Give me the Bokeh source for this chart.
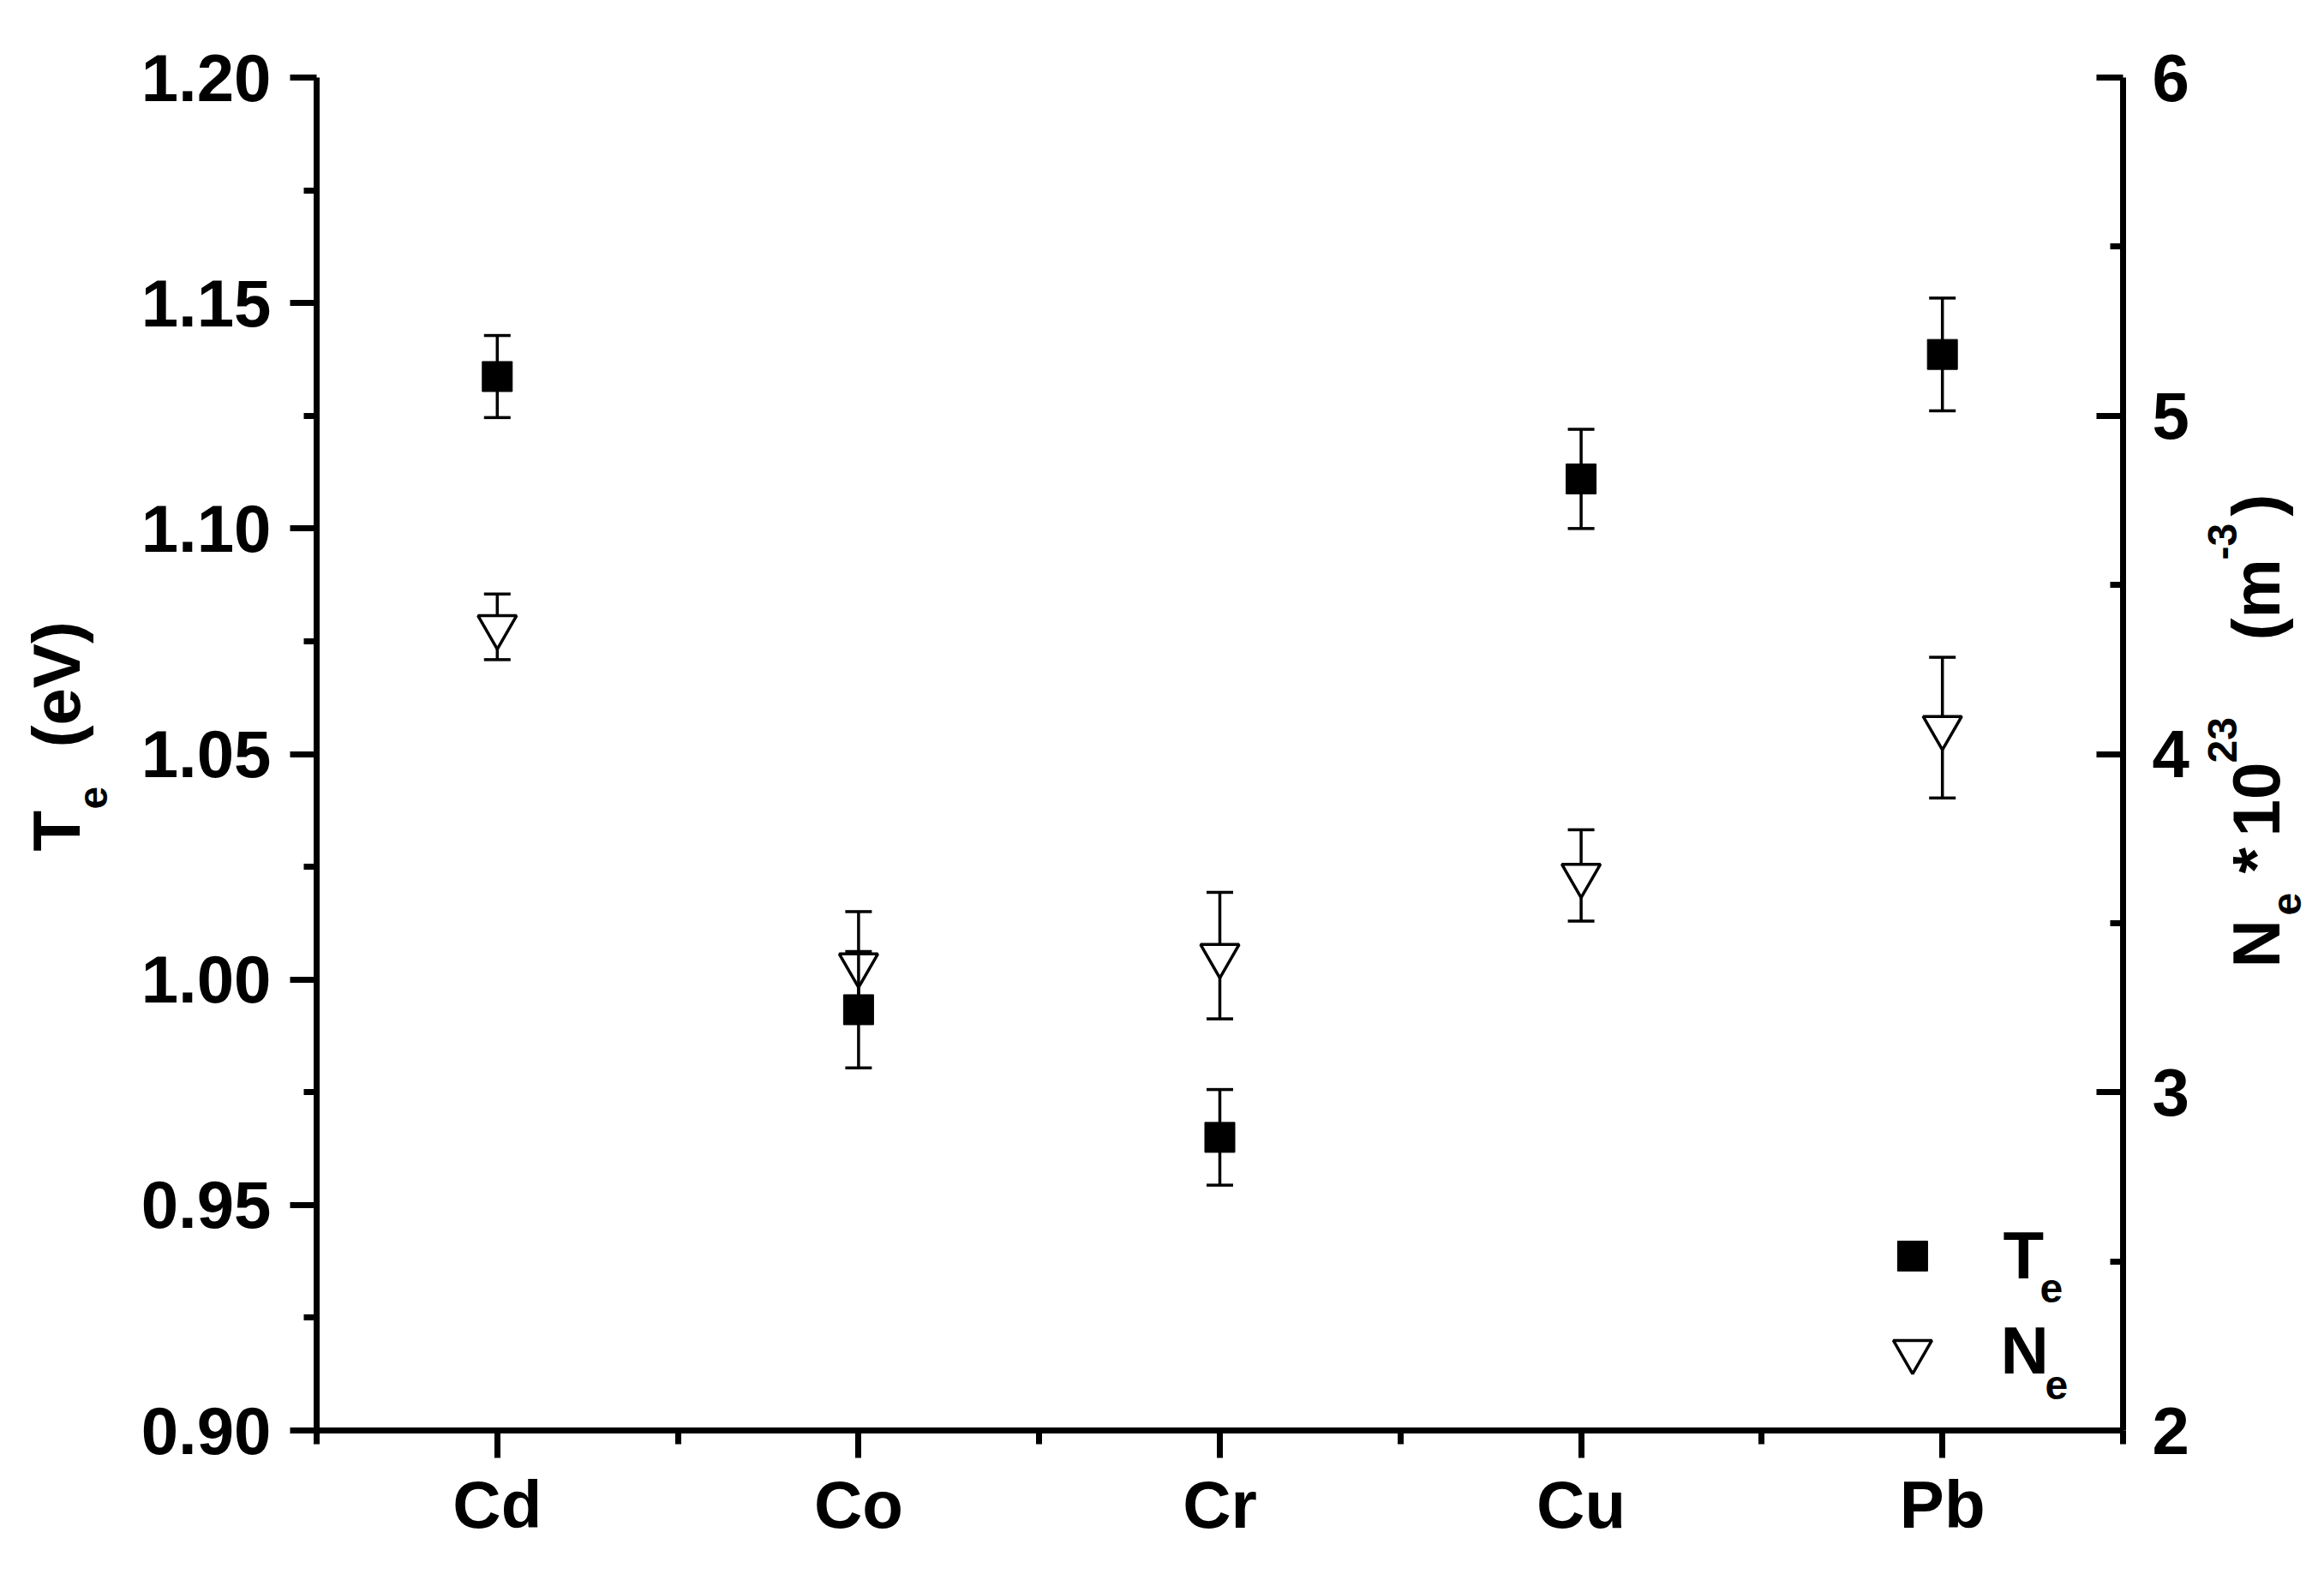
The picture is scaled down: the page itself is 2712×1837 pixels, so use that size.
import math
from bokeh.plotting import figure
from bokeh.layouts import row
from bokeh.core.properties import value
from bokeh.models import (ColumnDataSource, Range1d, LinearAxis, FixedTicker,
                          NumeralTickFormatter, Label)
from bokeh.embed import file_html
from bokeh.resources import INLINE

# ---------------- data ----------------
categories = ["Cd", "Co", "Cr", "Cu", "Pb"]
te = [1.1337, 0.9933, 0.965, 1.111, 1.1386]          # Te (eV)
te_err = [0.0091, 0.0129, 0.0106, 0.011, 0.0125]
ne = [4.376, 3.376, 3.404, 3.641, 4.078]              # Ne * 1e23 (m^-3)
ne_err = [0.097, 0.158, 0.187, 0.135, 0.208]

left_ticks = [0.90, 0.95, 1.00, 1.05, 1.10, 1.15, 1.20]
right_ticks = [2, 3, 4, 5, 6]

# axis title pieces
left_title_text = ["T", "e", "(eV)"]
right_title_text = ["N", "e", "*", "10", "23", "(m", "-3", ")"]

xs = list(range(len(categories)))
src = ColumnDataSource(dict(
    x=xs, te=te, te_lo=[v - e for v, e in zip(te, te_err)], te_hi=[v + e for v, e in zip(te, te_err)],
    ne=ne, ne_lo=[v - e for v, e in zip(ne, ne_err)], ne_hi=[v + e for v, e in zip(ne, ne_err)],
))

FONT = "Liberation Sans"
FS = "78px"
SUB = "48px"

W_LEFT, W_RIGHT = 138, 143
L, R, T, B = 231, 85, 90, 154
FW, FH = 2108, 1579

p = figure(output_backend="svg", toolbar_location=None, title=None,
           frame_width=FW, frame_height=FH,
           min_border_left=L, min_border_right=R, min_border_top=T, min_border_bottom=B,
           x_range=Range1d(-0.5, len(categories) - 0.5),
           y_range=Range1d(left_ticks[0], left_ticks[-1]),
           x_axis_type=None, y_axis_type=None)
p.extra_y_ranges = {"ne": Range1d(right_ticks[0], right_ticks[-1])}
p.grid.visible = False
p.outline_line_color = None


def style_axis(ax, tick_in, tick_out, minor_in, minor_out, standoff):
    ax.axis_line_width = 7
    ax.axis_line_color = "black"
    ax.major_tick_line_width = 7
    ax.minor_tick_line_width = 7
    ax.major_tick_in = tick_in
    ax.major_tick_out = tick_out
    ax.minor_tick_in = minor_in
    ax.minor_tick_out = minor_out
    ax.major_label_standoff = standoff
    ax.major_label_text_font = FONT
    ax.major_label_text_font_size = FS
    ax.major_label_text_font_style = "bold"
    ax.major_label_text_color = "black"


# bottom axis
xb = LinearAxis(ticker=FixedTicker(ticks=xs, minor_ticks=[i - 0.5 for i in range(len(categories) + 1)]),
                major_label_overrides={i: c for i, c in enumerate(categories)})
style_axis(xb, 0, 32, 0, 16, 10)
p.add_layout(xb, "below")

# left axis
yl = LinearAxis(ticker=FixedTicker(ticks=left_ticks,
                                   minor_ticks=[round(t + 0.025, 3) for t in left_ticks[:-1]]),
                formatter=NumeralTickFormatter(format="0.00"))
style_axis(yl, 0, 31, 0, 15, 22)
p.add_layout(yl, "left")

# right axis
yr = LinearAxis(y_range_name="ne",
                ticker=FixedTicker(ticks=right_ticks, minor_ticks=[t + 0.5 for t in right_ticks[:-1]]),
                formatter=NumeralTickFormatter(format="0"))
style_axis(yr, 31, 0, 15, 0, 34)
p.add_layout(yr, "right")

# ---------------- Ne series (right axis) ----------------
p.segment(x0="x", y0="ne_lo", x1="x", y1="ne_hi", source=src, y_range_name="ne",
          line_color="black", line_width=3.5)
p.scatter(x="x", y="ne_lo", source=src, y_range_name="ne", marker="dash", size=31,
          line_color="black", line_width=3.5)
p.scatter(x="x", y="ne_hi", source=src, y_range_name="ne", marker="dash", size=31,
          line_color="black", line_width=3.5)
p.scatter(x="x", y="ne", source=src, y_range_name="ne", marker="inverted_triangle", size=45,
          fill_color="white", line_color="black", line_width=3.5)

# ---------------- Te series (left axis) ----------------
p.segment(x0="x", y0="te_lo", x1="x", y1="te_hi", source=src,
          line_color="black", line_width=3.5)
p.scatter(x="x", y="te_lo", source=src, marker="dash", size=31, line_color="black", line_width=3.5)
p.scatter(x="x", y="te_hi", source=src, marker="dash", size=31, line_color="black", line_width=3.5)
p.scatter(x="x", y="te", source=src, marker="square", size=35,
          fill_color="black", line_color="black", line_width=1)

# ---------------- legend ----------------
xr0, xr1 = p.x_range.start, p.x_range.end
yr0, yr1 = p.y_range.start, p.y_range.end
leg_x = xr0 + 0.8835 * (xr1 - xr0)
p.scatter(x=[leg_x], y=[yr0 + 0.1289 * (yr1 - yr0)], marker="square", size=35,
          fill_color="black", line_color="black")
p.scatter(x=[leg_x], y=[yr0 + 0.0583 * (yr1 - yr0)], marker="inverted_triangle", size=45,
          fill_color="white", line_color="black", line_width=3.5)


def lab(text, x, y, size=FS):
    p.add_layout(Label(x=x, y=y, x_units="screen", y_units="screen", text=text,
                       text_font=FONT, text_font_size=size,
                       text_font_style="bold", text_color="black",
                       text_align="left", text_baseline="alphabetic"))


lab("T", 1968, 205)
lab("e", 2011, 166, SUB)
lab("N", 1965, 94)
lab("e", 2017, 53, SUB)


# ---------------- side figures for the rotated axis titles ----------------
def side_fig(w):
    f = figure(output_backend="svg", toolbar_location=None, title=None,
               frame_width=w, frame_height=FH, min_border=0,
               min_border_left=0, min_border_right=0, min_border_top=0, min_border_bottom=0,
               x_range=Range1d(0, w), y_range=Range1d(0, FH),
               x_axis_type=None, y_axis_type=None)
    f.grid.visible = False
    f.outline_line_color = None
    return f


up = math.pi / 2
txt = dict(angle=up, text_font=value(FONT), text_font_style=value("bold"),
           text_align=value("left"), text_baseline=value("alphabetic"), text_color="black")

lf = side_fig(W_LEFT)
lf.text(x=[65, 65], y=[676, 797], text=[left_title_text[0], left_title_text[2]],
        text_font_size=value(FS), **txt)
lf.text(x=[108], y=[725], text=[left_title_text[1]], text_font_size=value(SUB), **txt)

rf = side_fig(W_RIGHT)
big = [0, 2, 3, 5, 7]
small = [1, 4, 6]
rf.text(x=[70, 70, 70, 70, 70], y=[540, 650, 693, 922, 1067],
        text=[right_title_text[i] for i in big], text_font_size=value(FS), **txt)
rf.text(x=[106, 31, 31], y=[601, 779, 1016],
        text=[right_title_text[i] for i in small], text_font_size=value(SUB), **txt)

layout = row(lf, p, rf, spacing=0)
open("out.html", "w").write(file_html(layout, INLINE))
